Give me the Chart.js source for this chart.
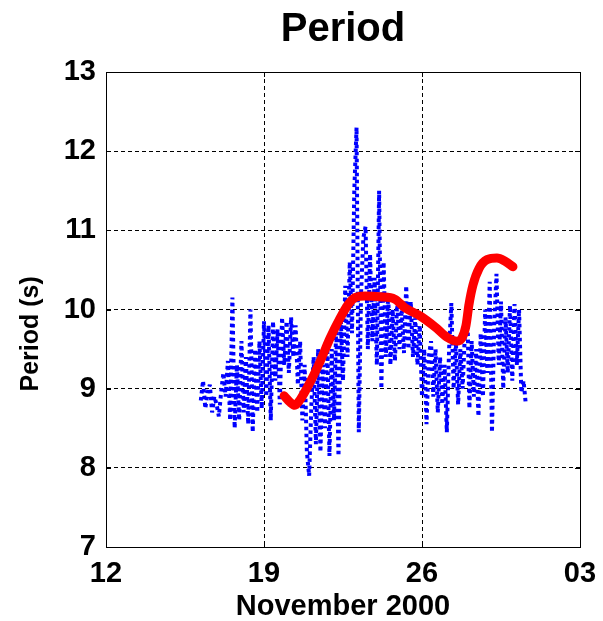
<!DOCTYPE html>
<html>
<head>
<meta charset="utf-8">
<script src="https://cdn.jsdelivr.net/npm/chart.js@4/dist/chart.umd.min.js"></script>
<style>
html,body{margin:0;padding:0;background:#fff;}
#wrap{width:603px;height:621px;}
</style>
</head>
<body>
<div id="wrap"><canvas id="c" width="603" height="621"></canvas></div>
<script>
// Days of November 2000 (33 = 03 December)
const xTickValues = [12, 19, 26, 33];
const xTickLabels = ["12", "19", "26", "03"];
const yTickValues = [7, 8, 9, 10, 11, 12, 13];

// Blue dotted series: sampled every 0.1 day starting Nov 16.2
const blueStart = 16.2;
const blueStep = 0.1;
const blueValues = [
  8.85, 9.1, 8.75, 8.95, 9.05, 8.7, 8.9, 8.8, 8.65, 8.95,
  9.2, 8.9, 9.35, 8.6, 10.15, 8.5, 9.3, 8.6, 9.6, 8.7,
  9.4, 8.55, 10.0, 8.45, 9.5, 8.7, 9.6, 8.75, 9.85, 8.9,
  9.8, 8.6, 9.85, 9.1, 9.75, 8.8, 9.9, 9.3, 9.85, 9.2,
  9.9, 9.4, 9.8, 9.05, 9.6, 8.6, 9.3, 8.2, 7.9, 8.8,
  9.4, 8.3, 9.5, 8.2, 9.3, 8.5, 9.6, 8.15, 9.5, 8.6,
  9.8, 8.15, 9.9, 9.1, 10.3, 9.4, 10.6, 9.7, 11.5, 12.3,
  8.45, 10.2, 10.9, 11.05, 9.5, 10.7, 9.6, 10.4, 9.3, 11.5,
  9.0, 10.6, 9.4, 10.2, 9.3, 10.0, 9.35, 10.1, 9.5, 10.0,
  9.45, 10.3, 9.5, 10.1, 9.4, 9.9, 9.3, 9.8, 8.9, 9.5,
  8.55, 9.4, 9.6, 8.9, 9.5, 8.7, 9.4, 8.8, 9.3, 8.45,
  9.5, 10.08, 9.0, 9.6, 8.8, 9.5, 9.0, 9.7, 10.1, 8.75,
  9.6, 8.9, 9.5, 8.65, 9.7, 8.9, 10.0, 9.2, 10.35, 8.45,
  9.8, 10.45, 9.3, 10.1, 9.0, 9.9, 9.2, 10.05, 9.1, 10.07,
  9.3, 10.0, 8.95, 9.1, 8.8
];

// Red smoothed series
const redDays = [19.89, 20.15, 20.37, 20.60, 21.04, 21.48, 21.93, 22.37, 22.72, 23.03,
  23.48, 24.14, 24.80, 25.25, 25.91, 26.58, 27.11, 27.55, 27.77, 27.95,
  28.08, 28.26, 28.53, 28.88, 29.32, 29.68, 30.03];
const redValues = [8.91, 8.83, 8.79, 8.86, 9.08, 9.34, 9.64, 9.89, 10.06, 10.15,
  10.17, 10.16, 10.13, 10.02, 9.92, 9.78, 9.65, 9.60, 9.64, 9.80,
  10.06, 10.31, 10.52, 10.63, 10.65, 10.61, 10.54];

const bluePoints = blueValues.map((v, i) => ({x: blueStart + i * blueStep, y: v}));
const redPoints = redDays.map((d, i) => ({x: d, y: redValues[i]}));

const FONT = "'Liberation Sans', Arial, Helvetica, sans-serif";

const boxPlugin = {
  id: 'box',
  afterDraw(chart) {
    const {ctx, chartArea: a, scales} = chart;
    ctx.save();
    ctx.strokeStyle = '#000';
    ctx.lineWidth = 1;
    ctx.setLineDash([]);
    ctx.strokeRect(Math.round(a.left) + 0.5, Math.round(a.top) + 0.5,
      Math.round(a.right - a.left), Math.round(a.bottom - a.top));
    ctx.beginPath();
    const tl = 5;
    xTickValues.forEach(v => {
      const px = Math.round(scales.x.getPixelForValue(v)) + 0.5;
      ctx.moveTo(px, a.bottom); ctx.lineTo(px, a.bottom - tl);
      ctx.moveTo(px, a.top); ctx.lineTo(px, a.top + tl);
    });
    yTickValues.forEach(v => {
      const py = Math.round(scales.y.getPixelForValue(v)) + 0.5;
      ctx.moveTo(a.left, py); ctx.lineTo(a.left + tl, py);
      ctx.moveTo(a.right, py); ctx.lineTo(a.right - tl, py);
    });
    ctx.stroke();
    ctx.restore();
  }
};

new Chart(document.getElementById('c'), {
  type: 'scatter',
  data: {
    datasets: [
      {
        label: 'Smoothed',
        data: redPoints,
        showLine: true,
        borderColor: '#ff0000',
        backgroundColor: '#ff0000',
        borderWidth: 9,
        pointRadius: 0,
        cubicInterpolationMode: 'monotone',
        borderCapStyle: 'round',
        borderJoinStyle: 'round',
        order: 0
      },
      {
        label: 'Period',
        data: bluePoints,
        showLine: true,
        borderColor: '#0000ff',
        backgroundColor: '#0000ff',
        borderWidth: 4,
        borderDash: [3.5, 3.5],
        borderJoinStyle: 'bevel',
        pointRadius: 0,
        tension: 0,
        order: 1
      }
    ]
  },
  options: {
    responsive: false,
    animation: false,
    devicePixelRatio: 1,
    layout: { padding: { left: 0, right: 23, top: 0, bottom: 0 } },
    plugins: {
      legend: { display: false },
      tooltip: { enabled: false },
      title: {
        display: true,
        text: 'Period',
        fullSize: false,
        color: '#000',
        font: { family: FONT, size: 40, weight: 'bold', lineHeight: 1.2 },
        padding: { top: 6, bottom: 18 }
      }
    },
    scales: {
      x: {
        type: 'linear',
        min: 12, max: 33,
        afterBuildTicks(scale) { scale.ticks = xTickValues.map(v => ({value: v})); },
        afterFit(scale) { scale.height = 74; scale.paddingLeft = 0; scale.paddingRight = 0; },
        ticks: {
          color: '#000',
          font: { family: FONT, size: 29, weight: 'bold' },
          padding: 10,
          maxRotation: 0,
          autoSkip: false,
          callback: (v) => { const k = xTickValues.indexOf(v); return k >= 0 ? xTickLabels[k] : ''; }
        },
        grid: { color: '#000', lineWidth: 1, drawTicks: false },
        border: { display: true, color: '#000', dash: [4, 3] },
        title: {
          display: true,
          text: 'November 2000',
          color: '#000',
          font: { family: FONT, size: 29, weight: 'bold', lineHeight: 1.0 },
          padding: { top: 0, bottom: 0 }
        }
      },
      y: {
        type: 'linear',
        min: 7, max: 13,
        afterBuildTicks(scale) { scale.ticks = yTickValues.map(v => ({value: v})); },
        afterFit(scale) { scale.width = 106; scale.paddingTop = 0; scale.paddingBottom = 0; },
        ticks: {
          color: '#000',
          font: { family: FONT, size: 29, weight: 'bold' },
          padding: 10,
          autoSkip: false
        },
        grid: { color: '#000', lineWidth: 1, drawTicks: false },
        border: { display: true, color: '#000', dash: [4, 3] },
        title: {
          display: true,
          text: 'Period (s)\u00a0\u00a0\u00a0\u00a0\u00a0\u00a0\u00a0',
          color: '#000',
          font: { family: FONT, size: 25, weight: 'bold', lineHeight: 1.0 },
          padding: { top: 19, bottom: 0 }
        }
      }
    }
  },
  plugins: [boxPlugin]
});
</script>
</body>
</html>
